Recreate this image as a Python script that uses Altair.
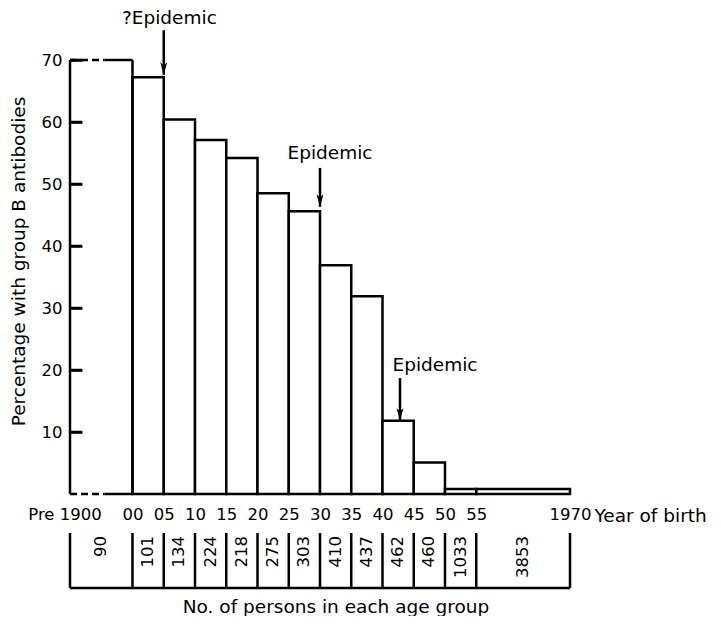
import altair as alt
import pandas as pd

# ---------------- data ----------------
group_start = [1890, 1900, 1905, 1910, 1915, 1920, 1925, 1930, 1935, 1940, 1945, 1950, 1955]
group_end = [1900, 1905, 1910, 1915, 1920, 1925, 1930, 1935, 1940, 1945, 1950, 1955, 1970]
percent = [70.0, 67.2, 60.4, 57.1, 54.2, 48.5, 45.6, 36.9, 31.9, 11.8, 5.1, 0.8, 0.8]
persons = [90, 101, 134, 224, 218, 275, 303, 410, 437, 462, 460, 1033, 3853]

pre1900_known_from = 1895.5  # left of this the pre-1900 outline is dashed

tick_years = [1895, 1900, 1905, 1910, 1915, 1920, 1925, 1930, 1935, 1940, 1945, 1950, 1955, 1970]
tick_labels = ["Pre 1900", "00", "05", "10", "15", "20", "25", "30", "35", "40", "45", "50", "55", "1970"]
y_ticks = [10, 20, 30, 40, 50, 60, 70]

epi_year = [1905, 1930, 1942.8]
epi_tip = [67.6, 46.3, 11.8]
epi_top = [74.8, 52.6, 18.7]
epi_label = ["?Epidemic", "Epidemic", "Epidemic"]
epi_label_year = [1905.9, 1931.6, 1948.4]
epi_label_y = [76.7, 55.0, 20.8]

# ---------------- tables ----------------
W, H = 500, 434
X_MIN, X_MAX = 1890, 1970
Y_MAX = 70
TICK = 12   # inward tick length (px)
SW = 2.5    # line width (px)

px_x = (X_MAX - X_MIN) / W   # years per pixel
px_y = Y_MAX / H             # percent per pixel

groups = pd.DataFrame({"start": group_start, "end": group_end,
                       "pct": percent, "n": persons})
groups["mid"] = (groups["start"] + groups["end"]) / 2
bars = groups.iloc[1:]
pre_val = percent[0]
pre_start = group_start[0]
pre_end = group_end[0]

dashed = pd.DataFrame({"x": [pre_start, pre_start], "x2": [pre1900_known_from] * 2,
                       "y": [pre_val, 0], "y2": [pre_val, 0]})
# solid outline pieces: pre-1900 top, its right edge, the bottom, and the vertical axis line
solid = pd.DataFrame({
    "x": [pre1900_known_from, pre_end, pre1900_known_from, X_MIN],
    "x2": [pre_end, pre_end, pre_end, X_MIN],
    "y": [pre_val, 0, 0, 0],
    "y2": [pre_val, pre_val, 0, pre_val],
})
# inward ticks as thin filled rectangles
tk = pd.DataFrame({"v": y_ticks})
tk["x"] = X_MIN
tk["x2"] = X_MIN + TICK * px_x
tk["lo"] = tk["v"] - SW / 2 * px_y
tk["hi"] = tk["v"] + SW / 2 * px_y

boundaries = pd.DataFrame({"b": [group_start[0]] + group_end})
epi = pd.DataFrame({"year": epi_year, "tip": epi_tip, "top": epi_top,
                    "label": epi_label, "lx": epi_label_year, "ly": epi_label_y})

FONT = "DejaVu Sans"
FS = 18.5      # words
FSN = 16.5     # numbers

label_map = " : ".join(
    f"datum.value == {y} ? '{l}'" for y, l in zip(tick_years, tick_labels)
) + " : ''"

xs = alt.Scale(domain=[X_MIN, X_MAX], nice=False, zero=False)
ys = alt.Scale(domain=[0, Y_MAX], nice=False)

x_axis = alt.Axis(values=tick_years, labelExpr=label_map,
                  labelAlign={"expr": "datum.value == 1895 ? 'right' : 'center'"},
                  domain=False, ticks=False, grid=False, labelPadding=12,
                  labelFontSize=FSN, labelFont=FONT, labelColor="black",
                  labelOverlap=False, labelFlush=False,
                  title="Year of birth", titleFont=FONT, titleFontSize=FS,
                  titleFontWeight="normal", titleColor="black",
                  titleX=524, titleY=21, titleAlign="left", titleBaseline="middle")
# axis moved TICK px into the plot so that its ticks point inward from the left edge
y_axis = alt.Axis(values=y_ticks, offset=-TICK, domain=False, grid=False,
                  ticks=True, tickSize=TICK, tickWidth=SW, tickColor="black",
                  tickOpacity=1, zindex=1,
                  labelFontSize=FSN, labelFont=FONT, labelColor="black", labelPadding=8,
                  title="Percentage with group B antibodies", titleFont=FONT,
                  titleFontSize=FS, titleFontWeight="normal", titleColor="black",
                  titleX=-46 - TICK, titleY=201, titleAlign="center",
                  titleBaseline="alphabetic", titleAngle=270)


def X(field, **kw):
    return alt.X(field, scale=xs, axis=x_axis, **kw)


def Y(field, **kw):
    return alt.Y(field, scale=ys, axis=y_axis, **kw)


base_bars = alt.Chart(bars).mark_rect(fill="white", stroke="black", strokeWidth=SW).encode(
    x=X("start:Q"), x2="end:Q", y=Y("pct:Q"), y2=alt.datum(0))

pre_dashed = alt.Chart(dashed).mark_rule(color="black", strokeWidth=SW, strokeDash=[7, 4]).encode(
    x=X("x:Q"), x2="x2:Q", y=Y("y:Q"), y2="y2:Q")
pre_solid = alt.Chart(solid).mark_rule(color="black", strokeWidth=SW).encode(
    x=X("x:Q"), x2="x2:Q", y=Y("y:Q"), y2="y2:Q")

tick_marks = alt.Chart(tk).mark_rect(fill="black", stroke=None, opacity=1).encode(
    x=X("x:Q"), x2="x2:Q", y=Y("lo:Q"), y2="hi:Q")

arrow_line = alt.Chart(epi).mark_rule(color="black", strokeWidth=SW).encode(
    x=X("year:Q"), y=Y("tip:Q"), y2="top:Q")
arrow_head = alt.Chart(epi).mark_point(
    shape="M0,0 L-0.55,-2 L0,-1.5 L0.55,-2 Z", filled=True, color="black",
    opacity=1, size=160, strokeWidth=0).encode(
    x=X("year:Q"), y=Y("tip:Q"))
arrow_text = alt.Chart(epi).mark_text(font=FONT, fontSize=FS, color="black",
                                      baseline="middle", align="center").encode(
    x=X("lx:Q"), y=Y("ly:Q"), text="label:N")

# table of numbers of persons below the axis
table_v = alt.Chart(boundaries).mark_rule(color="black", strokeWidth=SW).encode(
    x=X("b:Q"), y=alt.value(H + 39), y2=alt.value(H + 94))
table_h = alt.Chart(pd.DataFrame({"a": [group_start[0]], "b": [group_end[-1]]})).mark_rule(
    color="black", strokeWidth=SW).encode(
    x=X("a:Q"), x2="b:Q", y=alt.value(H + 94))
table_txt = alt.Chart(groups).mark_text(font=FONT, fontSize=FSN, color="black", angle=270,
                                        align="right", baseline="middle").encode(
    x=X("mid:Q"), y=alt.value(H + 42), text="n:N")
table_title = alt.Chart(pd.DataFrame({"t": ["No. of persons in each age group"]})).mark_text(
    font=FONT, fontSize=FS, color="black", align="center", baseline="middle").encode(
    x=alt.value(266), y=alt.value(H + 113), text="t:N")

chart = alt.layer(
    base_bars, pre_dashed, pre_solid, tick_marks, arrow_line, arrow_head, arrow_text,
    table_v, table_h, table_txt, table_title
).properties(
    width=W, height=H,
    autosize=alt.AutoSizeParams(type="none"),
    padding={"left": 62, "top": 52, "right": 143, "bottom": 122},
    background="white",
).configure_view(stroke=None).configure_text(font=FONT)

chart.save("out.html", embed_options={"renderer": "svg", "actions": False})
